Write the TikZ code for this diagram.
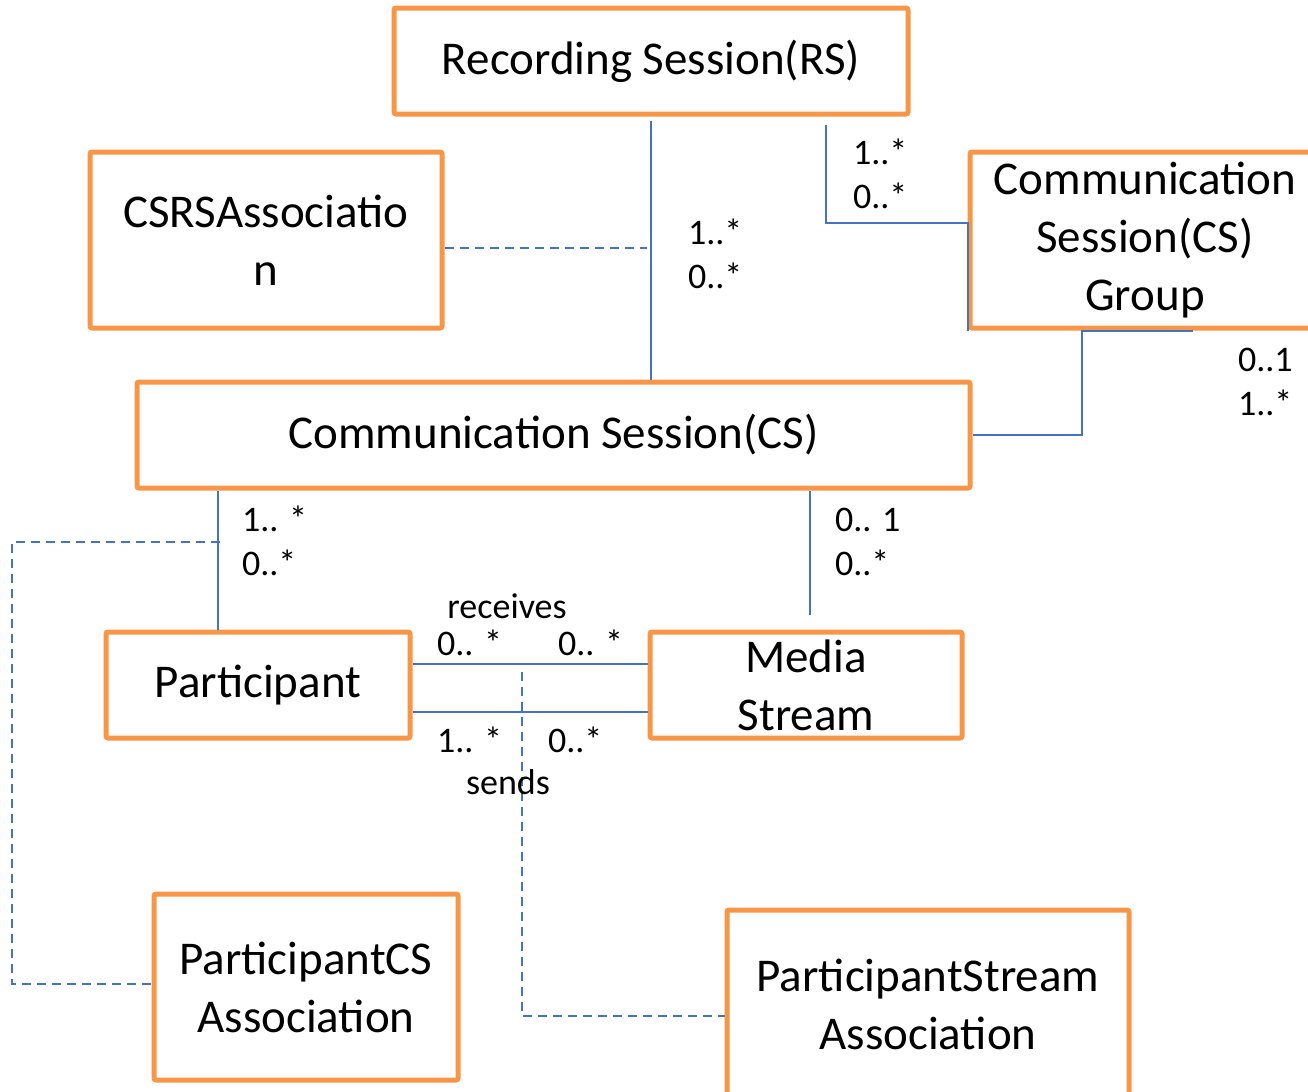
\documentclass[tikz,border=0pt]{standalone}
\usepackage{fontspec}
\setmainfont{Carlito}
\usetikzlibrary{positioning}

\definecolor{boxorange}{RGB}{247,150,70}
\definecolor{linkblue}{RGB}{68,114,196}

\tikzset{every picture/.style={line width=1pt}}
\tikzset{
  classbox/.style={draw=boxorange, line width=2.5pt, rounded corners=1pt, align=center, inner sep=0pt, font=\fontsize{23.5}{29}\selectfont},
  link/.style={draw=linkblue, line width=1pt},
  assoc/.style={link, dash pattern=on 4.5pt off 3pt},
  mult/.style={anchor=west, align=left, inner sep=0pt, font=\fontsize{18}{22}\selectfont},
  rolename/.style={inner sep=0pt, font=\fontsize{18}{22}\selectfont}
}

\begin{document}
\begin{tikzpicture}[x=0.5pt,y=-0.5pt]
\useasboundingbox (0,0) rectangle (1308,1092);

%Class boxes
\node[classbox, minimum width=257pt, minimum height=53pt] (rs) at (651,61) {Recording Session(RS)};
\node[classbox, minimum width=176pt, minimum height=88pt] (csrs) at (266,240) {CSRSAssociatio\\n};
\node[classbox, minimum width=175pt, minimum height=88pt] (csg) at (1145,240) {Communication\\Session(CS)\\Group};
\node[classbox, minimum width=416.5pt, minimum height=53pt] (cs) at (553.5,435) {Communication Session(CS)};
\node[classbox, minimum width=152pt, minimum height=53pt] (part) at (258,685) {Participant};
\node[classbox, minimum width=156pt, minimum height=53pt] (media) at (806,685) {Media\\Stream};
\node[classbox, minimum width=152pt, minimum height=93pt] (pcs) at (306,987) {ParticipantCS\\Association};
\node[classbox, minimum width=201pt, minimum height=94pt] (pstream) at (928,1004) {ParticipantStream\\Association};

%Join points
\coordinate (rsjoin) at (647,248);
\coordinate (pjoin) at (220,542);
\coordinate (mtop) at (810,615);
\coordinate (sjoin) at (522,672);

%Associations
\draw[link] (rs.south -| 651,0) ++(0,4) -- (cs.north -| 651,0);
\draw[link] (rs.south -| 826,0) ++(0,8) |- (csg.west |- 0,223) -- (csg.south west);
\draw[link] (csg.south -| 1193,0) -| (1082,435) -- (cs.east);
\draw[link] (cs.south -| 218,0) -- (part.north -| 218,0);
\draw[link] (cs.south -| 810,0) -- (mtop);
\draw[link] (part.east |- 0,664) -- (media.west |- 0,664);
\draw[link] (part.east |- 0,712) -- (media.west |- 0,712);

%Association classes
\draw[assoc] (csrs.east |- 0,248) -- (rsjoin);
\draw[assoc] (pjoin) -| (12,984) -- (pcs.west |- 0,984);
\draw[assoc] (sjoin) |- (pstream.west |- 0,1016);

%Multiplicities
\node[mult] (m1) at (852,174) {1..*\\0..*};
\node[mult] (m2) at (687,254) {1..*\\0..*};
\node[mult] (m3) at (1237,382) {0..1\\1..*};
\node[mult] (m4) at (241,541) {1.. *\\0..*};
\node[mult] (m5) at (834,542) {0.. 1\\0..*};
\node[mult] (m6) at (436,643) {0.. *};
\node[mult] (m7) at (557,643) {0.. *};
\node[mult] (m8) at (436,740) {1.. *};
\node[mult] (m9) at (547,740) {0..*};

%Role names
\node[rolename] (recv) at (507,606) {receives};
\node[rolename] (send) at (508,782) {sends};

\end{tikzpicture}
\end{document}
